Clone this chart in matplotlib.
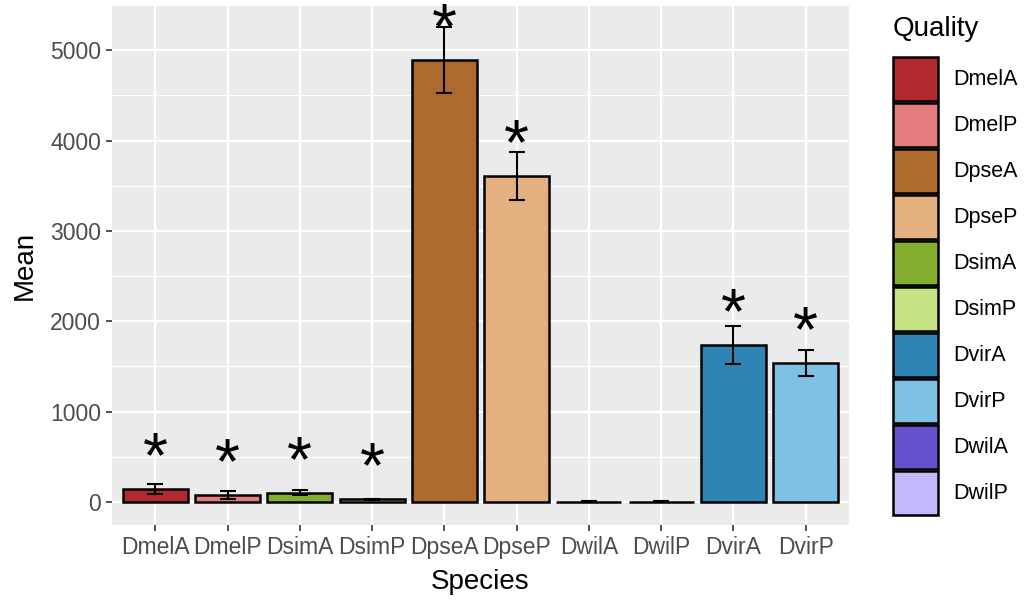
import matplotlib
matplotlib.use("Agg")
import matplotlib.pyplot as plt
from matplotlib.patches import Patch
from matplotlib.ticker import MultipleLocator

plt.rcParams['font.family'] = ['Liberation Sans', 'DejaVu Sans']

species = ["DmelA", "DmelP", "DsimA", "DsimP", "DpseA", "DpseP", "DwilA", "DwilP", "DvirA", "DvirP"]
means = [145, 77, 100, 30, 4889, 3606, 5, 5, 1737, 1538]
errors = [52, 45, 28, 8, 365, 265, 2, 2, 205, 145]
significant = [True, True, True, True, True, True, False, False, True, True]

quality_order = ["DmelA", "DmelP", "DpseA", "DpseP", "DsimA", "DsimP", "DvirA", "DvirP", "DwilA", "DwilP"]
quality_colors = {
    "DmelA": "#B2292E", "DmelP": "#E27C7F",
    "DpseA": "#AE6A2C", "DpseP": "#E5B07F",
    "DsimA": "#84AF2E", "DsimP": "#C5E384",
    "DvirA": "#2E84B4", "DvirP": "#7FC1E5",
    "DwilA": "#6650CC", "DwilP": "#C2B8FA",
}
star_offset = 320

W, H = 1029, 604
fig = plt.figure(figsize=(W / 100, H / 100), dpi=100)
ax = fig.add_axes([112 / W, 1 - 525 / H, (849 - 112) / W, (525 - 5) / H])
ax.set_facecolor("#EBEBEB")
for s in ax.spines.values():
    s.set_visible(False)

x = list(range(len(species)))
ax.bar(x, means, width=0.9, color=[quality_colors[s] for s in species],
       edgecolor="black", linewidth=1.8, zorder=3)
ax.errorbar(x, means, yerr=errors, fmt="none", ecolor="black", elinewidth=1.5,
            capsize=5.5, capthick=1.5, zorder=4)
for xi, m, sig in zip(x, means, significant):
    if sig:
        ax.text(xi, m + star_offset, "*", ha="center", va="center", fontsize=46,
                color="black", zorder=5)

ax.set_xlim(-0.6, len(species) - 0.4)
ax.set_ylim(-255, 5500)
ax.yaxis.set_major_locator(MultipleLocator(1000))
ax.yaxis.set_minor_locator(MultipleLocator(500))
ax.set_xticks(x)
ax.set_xticklabels(species)
ax.grid(which="major", color="white", linewidth=1.6, zorder=0)
ax.grid(which="minor", axis="y", color="white", linewidth=0.8, zorder=0)
ax.set_axisbelow(True)
ax.tick_params(axis="both", which="major", length=4, width=1.2, color="#333333",
               labelsize=16.5, labelcolor="#4D4D4D", pad=4)
ax.tick_params(axis="y", which="minor", length=0)
ax.set_xlabel("Species", fontsize=20, labelpad=7)
ax.set_ylabel("Mean", fontsize=20, labelpad=9)

fig.text(893 / W, 1 - 29 / H, "Quality", fontsize=20, ha="left", va="center")
handles = [Patch(facecolor=quality_colors[q], edgecolor="black", linewidth=1.8) for q in quality_order]
leg = fig.legend(handles, quality_order, loc="upper left",
                 bbox_to_anchor=(893 / W, 1 - 57 / H), frameon=False,
                 fontsize=15.5, handlelength=2.1, handleheight=2.77,
                 labelspacing=0.09, handletextpad=0.7, borderpad=0, borderaxespad=0)

fig.savefig("out.png", dpi=100)
